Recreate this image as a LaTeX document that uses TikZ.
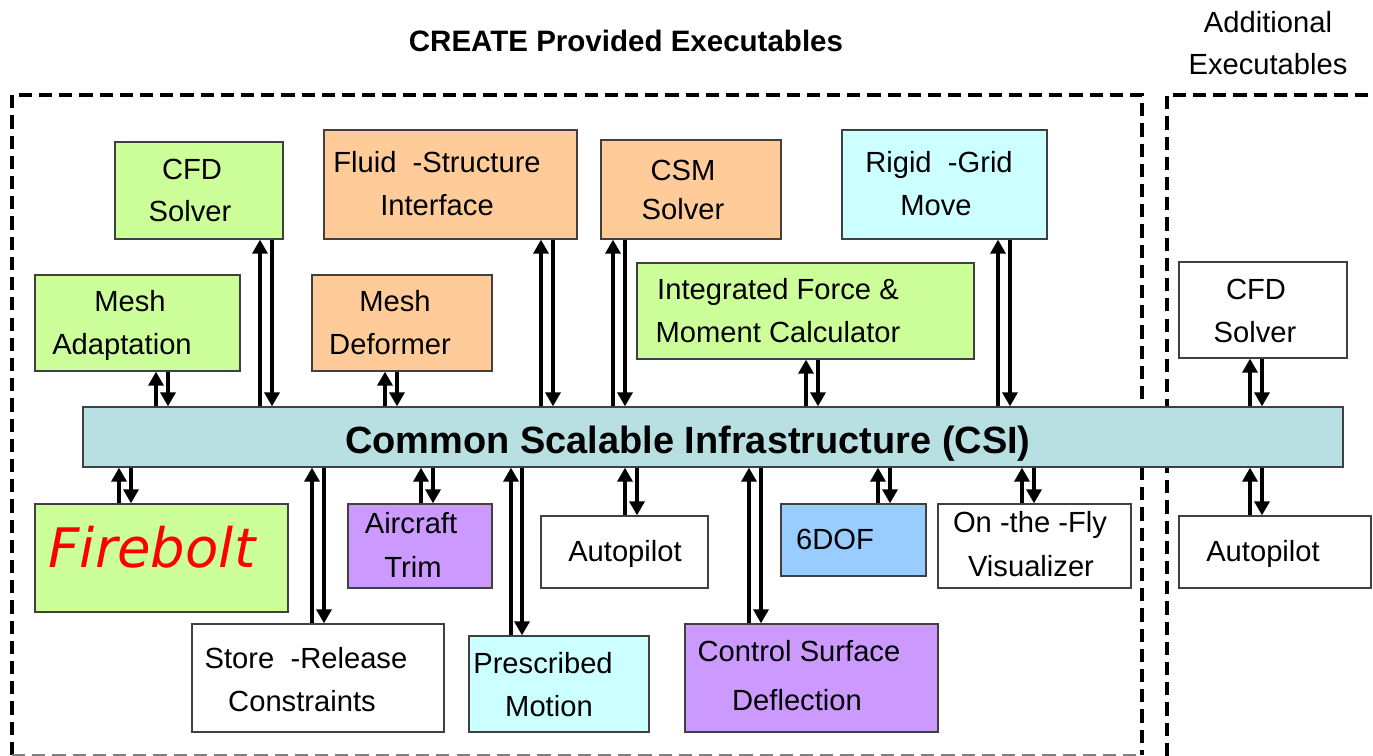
\documentclass[tikz,border=0pt]{standalone}
\usepackage{fontspec}
\setmainfont{Liberation Sans}
\newfontfamily\fbfont{DejaVu Sans}
\usetikzlibrary{arrows.meta,fit}
\definecolor{cgreen}{HTML}{CCFF99}
\definecolor{corange}{HTML}{FFCC99}
\definecolor{ccyan}{HTML}{CCFFFF}
\definecolor{cpurple}{HTML}{CC99FF}
\definecolor{cblue}{HTML}{99CCFF}
\definecolor{ccsi}{HTML}{B8E0E2}
\definecolor{cedge}{HTML}{404040}
\begin{document}
\begin{tikzpicture}[x=0.02cm,y=-0.02cm,
  box/.style={draw=cedge, line width=0.7pt, inner sep=0pt, fit={#1}},
  txt/.style={anchor=base, inner sep=0pt, font=\fontsize{16.6}{19}\selectfont},
  arr/.style={line width=2pt, -{Triangle[length=8pt,width=8.5pt]}},
  grp/.style={line width=2.2pt, dash pattern=on 7.5pt off 4pt}]
\useasboundingbox (0,0) rectangle (1373,756);
% group frames
\draw[grp] (12,755) -- (12,95) -- (1142,95) -- (1142,755);
\draw[gray, line width=0.8pt, dash pattern=on 7.5pt off 4pt] (12,755) -- (1142,755);
\draw[grp] (1167,756) -- (1167,95) -- (1380,95);
\node[anchor=base, inner sep=0pt, font=\fontsize{16.8}{19}\selectfont\bfseries] (title) at (626,52) {CREATE Provided Executables};
\node[txt] (add1) at (1268,33) {Additional};
\node[txt] (add2) at (1268,75) {Executables};
% boxes
\node[box={(115,142) (283,239)}, fill=cgreen] (cfd) {};
\node[box={(35,275) (240,371)}, fill=cgreen] (mad) {};
\node[box={(324,130) (577,239)}, fill=corange] (fsi) {};
\node[box={(312,275) (492,371)}, fill=corange] (mdef) {};
\node[box={(601,140) (781,239)}, fill=corange] (csm) {};
\node[box={(637,263) (974,359)}, fill=cgreen] (ifm) {};
\node[box={(842,130) (1047,239)}, fill=ccyan] (rgm) {};
\node[box={(83,407) (1343,467)}, fill=ccsi] (csi) {};
\node[box={(35,504) (288,612)}, fill=cgreen] (fb) {};
\node[box={(348,504) (492,588)}, fill=cpurple] (act) {};
\node[box={(541,516) (708,588)}, fill=white] (ap) {};
\node[box={(781,504) (926,576)}, fill=cblue] (dof) {};
\node[box={(938,504) (1131,588)}, fill=white] (otf) {};
\node[box={(192,624) (444,732)}, fill=white] (src) {};
\node[box={(469,636) (649,732)}, fill=ccyan] (pm) {};
\node[box={(685,624) (938,732)}, fill=cpurple] (csd) {};
\node[box={(1179,262) (1347,358)}, fill=white] (rcfd) {};
\node[box={(1179,516) (1371,588)}, fill=white] (rap) {};
% texts
\node[txt] (t1) at (192,180) {CFD};
\node[txt] (t2) at (190,222) {Solver};
\node[txt] (t3) at (130,312) {Mesh};
\node[txt] (t4) at (122,355) {Adaptation};
\node[txt] (t5) at (437,173) {Fluid\ \ -Structure};
\node[txt] (t6) at (437,216) {Interface};
\node[txt] (t7) at (395,312) {Mesh};
\node[txt] (t8) at (390,355) {Deformer};
\node[txt] (t9) at (683,181) {CSM};
\node[txt] (t10) at (683,220) {Solver};
\node[txt] (t11) at (778,300) {Integrated Force \&};
\node[txt] (t12) at (778,343) {Moment Calculator};
\node[txt] (t13) at (939,173) {Rigid\ \ -Grid};
\node[txt] (t14) at (936,216) {Move};
\node[anchor=base, inner sep=0pt, font=\fontsize{21.6}{25}\selectfont\bfseries] (t15) at (688,454) {Common Scalable Infrastructure (CSI)};
\node[anchor=base, inner sep=0pt, text=red, font=\fontsize{31}{36}\selectfont\fbfont\itshape] (t16) at (152,568) {Firebolt};
\node[txt] (t17) at (411,534) {Aircraft};
\node[txt] (t18) at (413,578) {Trim};
\node[txt] (t19) at (625,562) {Autopilot};
\node[txt] (t20) at (835,550) {6DOF};
\node[txt] (t21) at (1030,533) {On -the -Fly};
\node[txt] (t22) at (1031,577) {Visualizer};
\node[txt] (t23) at (306,668) {Store\ \ -Release};
\node[txt] (t24) at (302,711) {Constraints};
\node[txt] (t25) at (543,673) {Prescribed};
\node[txt] (t26) at (549,716) {Motion};
\node[txt] (t27) at (799,662) {Control Surface};
\node[txt] (t28) at (797,710) {Deflection};
\node[txt] (t29) at (1256,300) {CFD};
\node[txt] (t30) at (1255,343) {Solver};
\node[txt] (t31) at (1263,562) {Autopilot};
% upper connectors
\foreach \b/\xa/\xb in {mad/156/168, cfd/260/272, mdef/385/397, fsi/541/553, csm/613/625, ifm/806/818, rgm/998/1010, rcfd/1250/1262}{
  \draw[arr] (\xa,0 |- csi.north) -- (\xa,0 |- \b.south);
  \draw[arr] (\xb,0 |- \b.south) -- (\xb,0 |- csi.north);
}
% lower connectors
\foreach \b/\xa/\xb in {fb/119/131, src/312/324, act/421/433, pm/511/522, ap/625/637, csd/749/761, dof/878/890, otf/1022/1034, rap/1250/1262}{
  \draw[arr] (\xa,0 |- \b.north) -- (\xa,0 |- csi.south);
  \draw[arr] (\xb,0 |- csi.south) -- (\xb,0 |- \b.north);
}
\end{tikzpicture}
\end{document}
